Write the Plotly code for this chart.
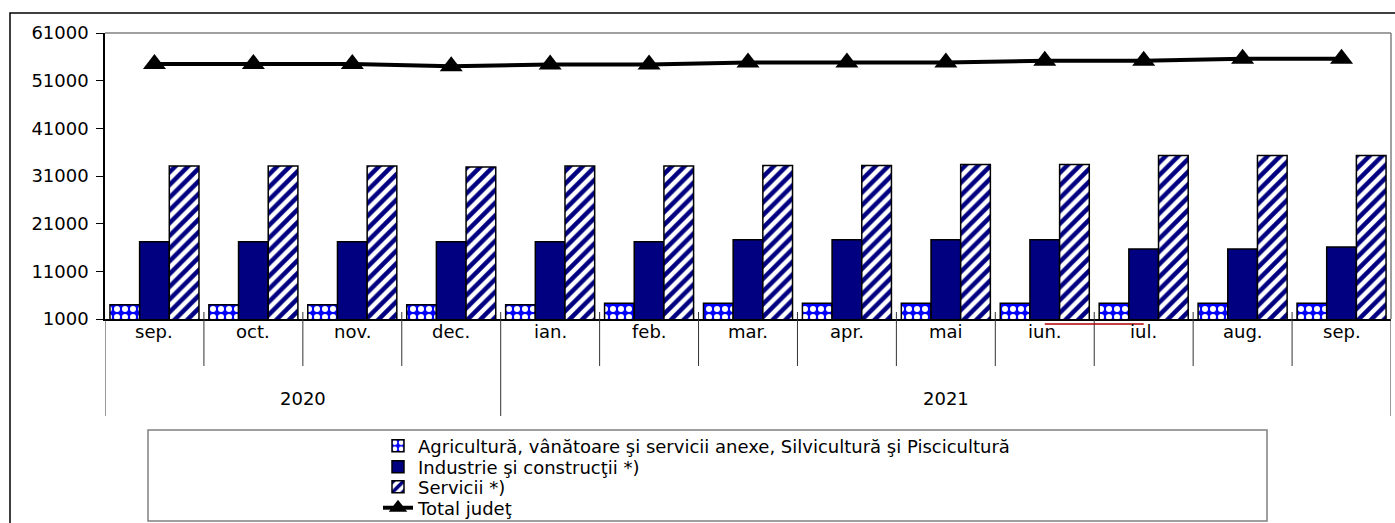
import plotly.graph_objects as go

months = ["sep.", "oct.", "nov.", "dec.", "ian.", "feb.", "mar.", "apr.", "mai", "iun.", "iul.", "aug.", "sep."]
years = ["2020"] * 4 + ["2021"] * 9
agri = [4000, 4000, 4000, 4000, 4000, 4300, 4300, 4300, 4300, 4300, 4300, 4300, 4300]
industrie = [17200, 17200, 17200, 17200, 17200, 17200, 17600, 17600, 17600, 17600, 15700, 15700, 16100]
servicii = [33100, 33100, 33100, 32900, 33100, 33100, 33200, 33200, 33400, 33400, 35300, 35300, 35300]
total = [54500, 54500, 54500, 54000, 54400, 54400, 54800, 54800, 54800, 55200, 55200, 55600, 55600]
y_ticks = [1000, 11000, 21000, 31000, 41000, 51000, 61000]

names = ["Agricultură, vânătoare şi servicii anexe, Silvicultură şi Piscicultură",
         "Industrie şi construcţii *)",
         "Servicii *)",
         "Total judeţ"]

W, H = 1395, 523
L, R, T, B = 105, 4, 33, 0
PLOT_BOTTOM = 319
ph = H - T - B
pw = W - L - R


def py(pix):
    return (H - B - pix) / ph


def px(pix):
    return (pix - L) / pw


x = list(range(len(months)))
FONT = "DejaVu Sans, Verdana, sans-serif"

fig = go.Figure()
fig.add_bar(x=x, y=agri, name=names[0], legend="legend",
            marker=dict(color="#0000ff", line=dict(color="black", width=1.5),
                        pattern=dict(shape=".", fillmode="overlay", fgcolor="white", fgopacity=1,
                                     size=8, solidity=0.45)))
fig.add_bar(x=x, y=industrie, name=names[1], legend="legend2",
            marker=dict(color="#000080", line=dict(color="black", width=1.5)))
fig.add_bar(x=x, y=servicii, name=names[2], legend="legend3",
            marker=dict(color="white", line=dict(color="black", width=1.5),
                        pattern=dict(shape="/", fillmode="overlay", fgcolor="#000080", fgopacity=1,
                                     size=9, solidity=0.5)))
fig.add_scatter(x=x, y=total, name=names[3], mode="lines+markers", legend="legend4",
                line=dict(color="black", width=4),
                marker=dict(symbol="triangle-up", size=20, color="black"))

shapes = []
annotations = []
# month labels
for i, m in enumerate(months):
    annotations.append(dict(x=i, y=py(331), xref="x", yref="paper", text=m, showarrow=False,
                            yanchor="middle", font=dict(size=18, color="black", family=FONT)))
# year labels
uniq = []
for yv in years:
    if yv not in uniq:
        uniq.append(yv)
for yv in uniq:
    idx = [i for i, v in enumerate(years) if v == yv]
    annotations.append(dict(x=(idx[0] + idx[-1]) / 2, y=py(398), xref="x", yref="paper", text=yv,
                            showarrow=False, yanchor="middle", font=dict(size=18, color="black", family=FONT)))
# separators
year_bounds = {0, len(months)}
for i in range(1, len(years)):
    if years[i] != years[i - 1]:
        year_bounds.add(i)
for k in range(len(months) + 1):
    bottom = py(416) if k in year_bounds else py(366)
    top = py(PLOT_BOTTOM) if k in (0, len(months)) else py(312)
    shapes.append(dict(type="line", xref="x", yref="paper", x0=k - 0.5, x1=k - 0.5,
                       y0=top, y1=bottom, line=dict(color="#333333", width=1)))
# plot frame top/right gray
shapes.append(dict(type="line", xref="paper", yref="paper", x0=0, x1=1, y0=1, y1=1,
                   line=dict(color="#808080", width=1.5)))
shapes.append(dict(type="line", xref="paper", yref="paper", x0=1, x1=1, y0=py(PLOT_BOTTOM), y1=1,
                   line=dict(color="#808080", width=1.5)))
# outer border
shapes.append(dict(type="rect", xref="paper", yref="paper", x0=px(10), x1=px(1400), y0=py(530), y1=py(13),
                   line=dict(color="black", width=1.5)))
# legend box
shapes.append(dict(type="rect", xref="paper", yref="paper", x0=px(148), x1=px(1267), y0=py(521), y1=py(430),
                   line=dict(color="#808080", width=1.5)))
# red underline artifact
shapes.append(dict(type="line", xref="x", yref="paper", x0=9.0, x1=10.0, y0=py(324), y1=py(324),
                   line=dict(color="#b00000", width=1.5)))

leg_rows = [446, 467, 487, 508]
legends = {}
for j, row in enumerate(leg_rows):
    key = "legend" if j == 0 else f"legend{j + 1}"
    legends[key] = dict(x=px(378), y=py(row), xref="paper", yref="paper",
                        xanchor="left", yanchor="middle", orientation="v",
                        font=dict(size=18, family=FONT, color="black"), bgcolor="rgba(0,0,0,0)",
                        borderwidth=0, itemwidth=30)

fig.update_layout(
    width=W, height=H, autosize=False,
    margin=dict(l=L, r=R, t=T, b=B, pad=0, autoexpand=False),
    paper_bgcolor="white", plot_bgcolor="white",
    barmode="group", bargap=0.1, bargroupgap=0,
    font=dict(family=FONT, size=18, color="black"),
    showlegend=True,
    xaxis=dict(range=[-0.5, len(months) - 0.5], showticklabels=False, ticks="", showgrid=False,
               zeroline=False, showline=True, linecolor="black", linewidth=1.5),
    yaxis=dict(domain=[py(PLOT_BOTTOM), 1], range=[y_ticks[0], y_ticks[-1]], tickmode="array",
               tickvals=y_ticks, ticktext=[str(v) for v in y_ticks], ticks="outside", ticklen=7,
               tickcolor="black", showgrid=False, zeroline=False, showline=True, linecolor="black",
               linewidth=1.5, ticklabelstandoff=4, tickfont=dict(size=18, family=FONT, color="black")),
    shapes=shapes, annotations=annotations,
    **legends,
)

fig.write_html("out.html", config={"displayModeBar": False},
               post_script="document.body.style.margin='0';document.body.style.overflow='hidden';")
